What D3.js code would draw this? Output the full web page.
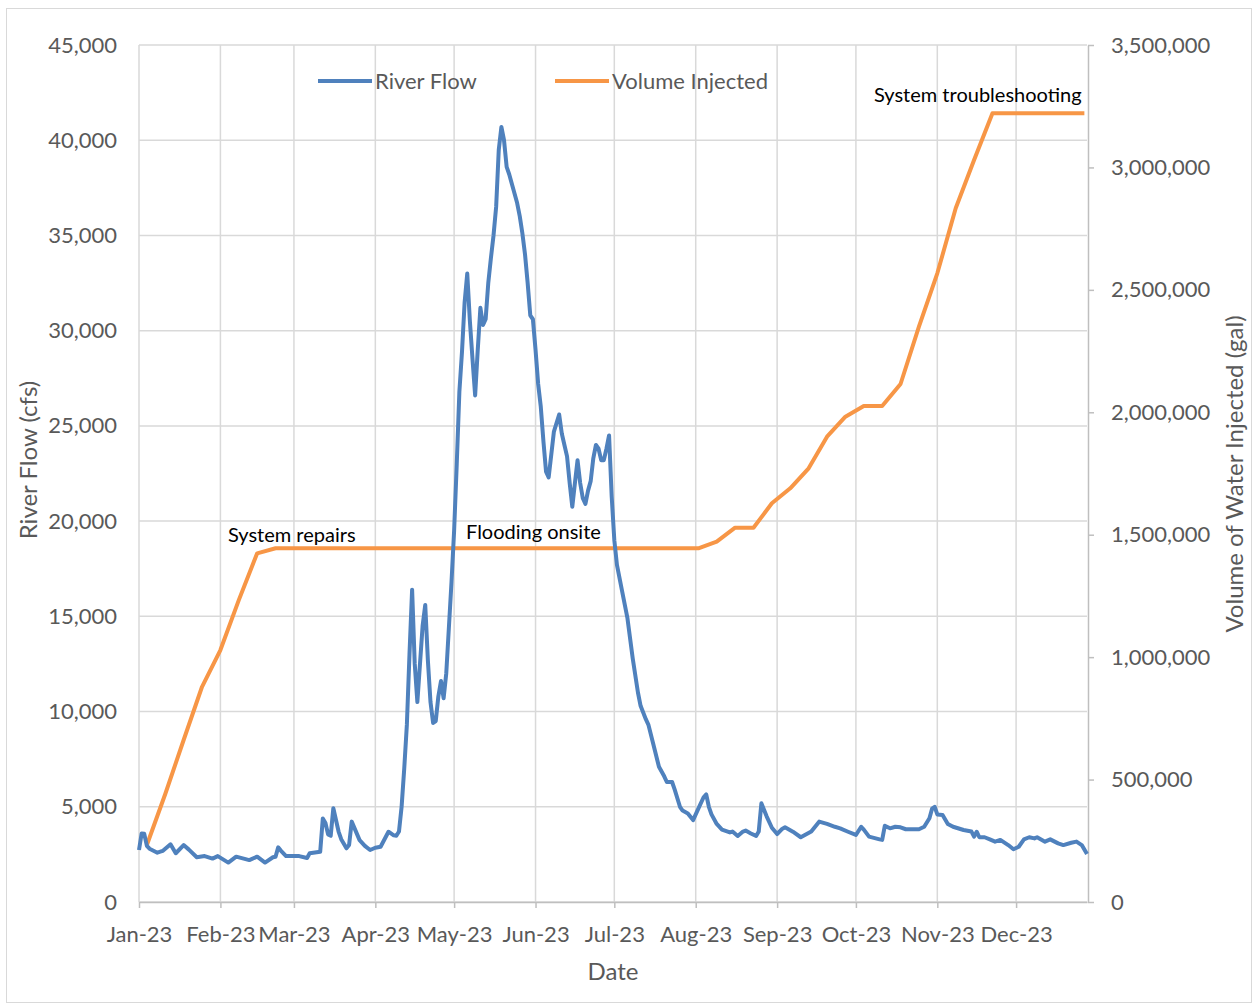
<!DOCTYPE html>
<html>
<head>
<meta charset="utf-8">
<script src="https://cdn.jsdelivr.net/npm/d3@7"></script>
<style>
    body { margin: 0; background: #fff; }
    text { font-family: Lato, "Open Sans", sans-serif; }
</style>
</head>
<body>
<div id="chart"></div>
<script>
// river flow (month-day in 2023, cfs)
const flowDays = [
    "01-01","01-02","01-03","01-04","01-05","01-08","01-10","01-13","01-15","01-18","01-20","01-23","01-26","01-29","01-31",
    "02-04","02-07","02-12","02-15","02-18","02-21","02-22","02-23","02-24","02-26",
    "03-03","03-06","03-07","03-11","03-12","03-13","03-14","03-15","03-16","03-18","03-19","03-21","03-22","03-23","03-26","03-28","03-30",
    "04-01","04-03","04-06","04-08","04-09","04-10","04-11","04-12","04-13","04-14","04-15","04-16","04-17","04-18","04-19","04-20",
    "04-21","04-22","04-23","04-24","04-25","04-26","04-27","04-28","04-29","04-30",
    "05-01","05-02","05-03","05-04","05-05","05-06","05-07","05-08","05-09","05-10","05-11","05-12","05-13","05-14","05-15","05-16",
    "05-17","05-18","05-19","05-20","05-21","05-22","05-24","05-25","05-26","05-27","05-28","05-29","05-30","05-31",
    "06-01","06-02","06-03","06-04","06-05","06-06","06-07","06-08","06-10","06-11","06-12","06-13","06-14","06-15","06-16","06-17",
    "06-18","06-19","06-20","06-21","06-22","06-23","06-24","06-25","06-26","06-27","06-28","06-29","06-30",
    "07-01","07-02","07-04","07-06","07-08","07-10","07-11","07-13","07-14","07-16","07-18","07-20","07-21","07-23","07-24","07-26",
    "07-27","07-29","07-31",
    "08-02","08-04","08-05","08-06","08-07","08-09","08-11","08-14","08-15","08-17","08-19","08-20","08-22","08-24","08-25","08-26",
    "08-28","08-30",
    "09-01","09-03","09-04","09-07","09-10","09-14","09-17","09-20","09-23","09-25","09-28",
    "10-01","10-03","10-04","10-06","10-10","10-11","10-12","10-14","10-16","10-18","10-20","10-25","10-27","10-29","10-30","10-31",
    "11-01","11-03","11-05","11-07","11-11","11-14","11-15","11-16","11-17","11-19","11-21","11-23","11-25","11-28","11-30",
    "12-02","12-04","12-06","12-08","12-09","12-12","12-14","12-17","12-19","12-22","12-24","12-26","12-28"
];
const flowCfs = [
    2730,3600,3580,2950,2800,2590,2680,3030,2560,2990,2750,2350,2410,2280,2410,
    2070,2380,2200,2380,2070,2350,2380,2870,2700,2410,
    2410,2310,2560,2640,4390,4150,3550,3480,4920,3700,3300,2820,2990,4220,3250,2950,2730,
    2850,2900,3690,3500,3480,3700,5000,7000,9300,13000,16400,12500,10500,12500,14500,15600,
    12700,10500,9400,9500,10800,11600,10700,12000,14400,16800,
    19500,23000,26800,28900,31500,33000,30500,28500,26600,29000,31200,30300,30600,32500,33800,35000,
    36500,39500,40700,40000,38600,38200,37200,36700,36000,35100,34000,32500,30800,30600,
    29000,27200,26000,24200,22600,22300,23500,24700,25600,24600,24000,23400,22000,20750,22000,23200,
    22000,21200,20900,21600,22100,23300,24000,23800,23200,23200,23800,24500,21300,
    19000,17700,16300,14900,12800,11000,10300,9600,9300,8200,7100,6600,6300,6300,5900,5000,
    4800,4650,4300,
    4900,5500,5650,5000,4600,4100,3800,3650,3700,3470,3700,3750,3600,3470,3700,5180,
    4500,3900,
    3570,3850,3920,3690,3400,3700,4220,4100,3950,3870,3690,
    3520,3950,3800,3430,3290,3260,4000,3870,3950,3920,3820,3820,3950,4400,4900,5000,
    4600,4570,4100,3950,3780,3700,3430,3690,3400,3400,3290,3170,3260,2990,2770,
    2900,3290,3400,3340,3400,3170,3290,3080,2990,3110,3170,2990,2520
];

// cumulative volume injected, weekly readings (gal)
const injDays = ["01-04","01-11","01-18","01-25","02-01","02-08","02-15","02-22","08-02","08-09","08-16","08-23","08-30",
    "09-06","09-13","09-20","09-27","10-04","10-11","10-18","10-25","11-01","11-08","11-15","11-22","12-27"];
const injGal = [232800,441000,661600,879000,1029000,1233000,1424000,1444500,1444500,1471500,1528600,1528600,1628300,
    1689500,1771200,1900300,1982000,2025700,2025700,2115500,2349600,2567500,2833000,3030300,3221000,3221000];

const monthTicks = ["01-01","02-01","03-01","04-01","05-01","06-01","07-01","08-01","09-01","10-01","11-01","12-01"];
const flowTicks = [0,5000,10000,15000,20000,25000,30000,35000,40000,45000];
const galTicks = [0,500000,1000000,1500000,2000000,2500000,3000000,3500000];

document.addEventListener("DOMContentLoaded", function () {
    const parse = d3.timeParse("%Y-%m-%d");
    const day = s => parse("2023-" + s);

    const flow = flowDays.map((d, i) => ({ date: day(d), v: flowCfs[i] }));
    const inj = injDays.map((d, i) => ({ date: day(d), v: injGal[i] }));

    const left = 139, right = 1087, top = 45, bottom = 902;

    const svg = d3.select("#chart")
        .append("svg")
        .attr("width", 1253)
        .attr("height", 1005);

    svg.append("rect")
        .attr("x", 6.5).attr("y", 8.5)
        .attr("width", 1245).attr("height", 994)
        .attr("fill", "#fff")
        .attr("stroke", "#d9d9d9");

    const x = d3.scaleTime()
        .domain([day("01-01"), day("12-28")])
        .range([left, right]);

    const yFlow = d3.scaleLinear().domain([0, 45000]).range([bottom, top]);
    const yGal = d3.scaleLinear().domain([0, 3500000]).range([bottom, top]);

    // gridlines
    svg.append("g").selectAll("line")
        .data(flowTicks)
        .enter().append("line")
        .attr("x1", left).attr("x2", right)
        .attr("y1", d => yFlow(d)).attr("y2", d => yFlow(d))
        .attr("stroke", "#d9d9d9").attr("stroke-width", 1.5);

    svg.append("g").selectAll("line")
        .data(monthTicks)
        .enter().append("line")
        .attr("x1", d => x(day(d))).attr("x2", d => x(day(d)))
        .attr("y1", top).attr("y2", bottom)
        .attr("stroke", "#d9d9d9").attr("stroke-width", 1.5);

    // axes
    const xAxis = svg.append("g")
        .attr("transform", `translate(0,${bottom})`)
        .call(d3.axisBottom(x)
            .tickValues(monthTicks.map(day))
            .tickFormat(d3.timeFormat("%b-%y"))
            .tickSize(6)
            .tickSizeOuter(0));
    xAxis.selectAll("text").attr("y", 24);

    const yAxisL = svg.append("g")
        .attr("transform", `translate(${left},0)`)
        .call(d3.axisLeft(yFlow)
            .tickValues(flowTicks)
            .tickFormat(d3.format(","))
            .tickSize(0)
            .tickPadding(22));
    yAxisL.select(".domain").remove();

    const yAxisR = svg.append("g")
        .attr("transform", `translate(${right + 1},0)`)
        .call(d3.axisRight(yGal)
            .tickValues(galTicks)
            .tickFormat(d3.format(","))
            .tickSize(6)
            .tickSizeOuter(0)
            .tickPadding(17));

    [xAxis, yAxisL, yAxisR].forEach(function (g) {
        g.selectAll(".domain").attr("stroke", "#bfbfbf").attr("stroke-width", 1.5);
        g.selectAll(".tick line").attr("stroke", "#bfbfbf").attr("stroke-width", 1.5);
        g.selectAll("text")
            .attr("fill", "#595959")
            .style("font-size", "22px")
            .style("font-family", "Lato, 'Open Sans', sans-serif");
    });

    // series
    const flowLine = d3.line()
        .x(d => x(d.date))
        .y(d => yFlow(d.v));

    const injLine = d3.line()
        .x(d => x(d.date))
        .y(d => yGal(d.v));

    svg.append("path")
        .datum(inj)
        .attr("fill", "none")
        .attr("stroke", "#f79646")
        .attr("stroke-width", 4)
        .attr("stroke-linejoin", "round")
        .attr("d", injLine);

    svg.append("path")
        .datum(flow)
        .attr("fill", "none")
        .attr("stroke", "#4f81bd")
        .attr("stroke-width", 4)
        .attr("stroke-linejoin", "round")
        .attr("d", flowLine);

    // legend
    const legend = [
        { name: "River Flow", color: "#4f81bd", x: 318 },
        { name: "Volume Injected", color: "#f79646", x: 555 }
    ];
    legend.forEach(function (l) {
        svg.append("line")
            .attr("x1", l.x).attr("x2", l.x + 54)
            .attr("y1", 81).attr("y2", 81)
            .attr("stroke", l.color)
            .attr("stroke-width", 4);
        svg.append("text")
            .attr("x", l.x + 57)
            .attr("y", 81)
            .attr("dy", "0.35em")
            .attr("fill", "#595959")
            .style("font-size", "22px")
            .text(l.name);
    });

    // axis titles
    svg.append("text")
        .attr("x", 613).attr("y", 980)
        .attr("text-anchor", "middle")
        .attr("fill", "#595959")
        .style("font-size", "24px")
        .text("Date");

    svg.append("text")
        .attr("transform", "translate(37,460) rotate(-90)")
        .attr("text-anchor", "middle")
        .attr("fill", "#595959")
        .style("font-size", "24px")
        .text("River Flow (cfs)");

    svg.append("text")
        .attr("transform", "translate(1243,474) rotate(-90)")
        .attr("text-anchor", "middle")
        .attr("fill", "#595959")
        .style("font-size", "24px")
        .text("Volume of Water Injected (gal)");

    // annotations
    svg.append("text").attr("x", 228).attr("y", 542)
        .attr("fill", "#000").style("font-size", "20px")
        .text("System repairs");
    svg.append("text").attr("x", 466).attr("y", 539)
        .attr("fill", "#000").style("font-size", "20px")
        .text("Flooding onsite");
    svg.append("text").attr("x", 874).attr("y", 102)
        .attr("fill", "#000").style("font-size", "20px")
        .text("System troubleshooting");
});
</script>
</body>
</html>
